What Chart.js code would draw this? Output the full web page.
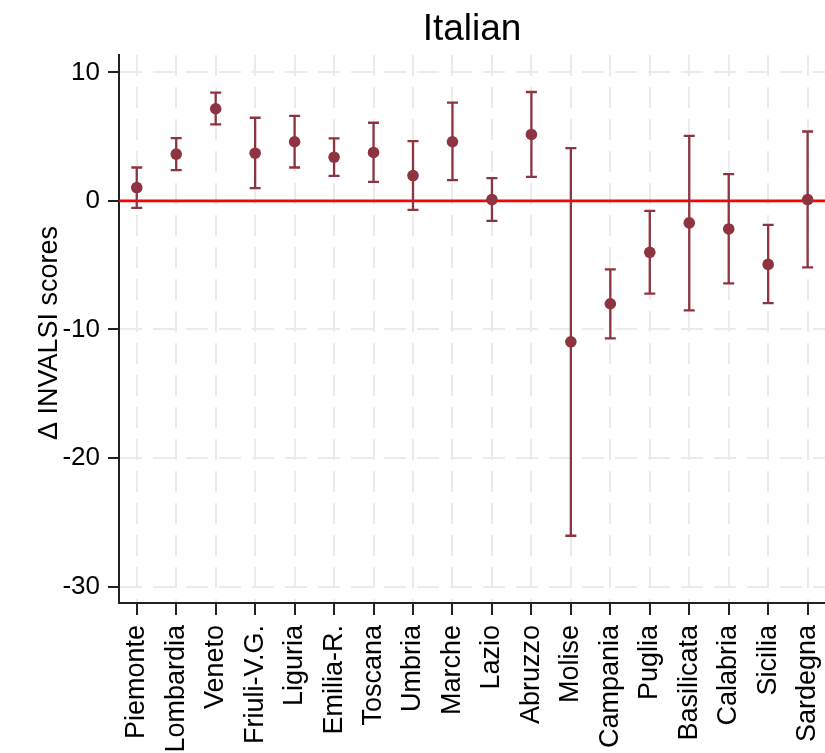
<!DOCTYPE html>
<html>
<head>
<meta charset="utf-8">
<script src="https://cdn.jsdelivr.net/npm/chart.js@4.4.0/dist/chart.umd.min.js"></script>
<style>
  html, body { margin: 0; padding: 0; background: #ffffff; }
  #wrap { width: 825px; height: 753px; }
</style>
</head>
<body>
<div id="wrap"><canvas id="c" width="825" height="753"></canvas></div>
<script>
// Regional differences in INVALSI Italian scores with confidence intervals
const regions = ['Piemonte', 'Lombardia', 'Veneto', 'Friuli-V.G.', 'Liguria', 'Emilia-R.',
  'Toscana', 'Umbria', 'Marche', 'Lazio', 'Abruzzo', 'Molise', 'Campania', 'Puglia',
  'Basilicata', 'Calabria', 'Sicilia', 'Sardegna'];
const estimates = [1.04, 3.64, 7.17, 3.71, 4.6, 3.4, 3.77, 1.97, 4.6, 0.1, 5.17, -10.96,
  -8.0, -4.0, -1.71, -2.18, -4.94, 0.1];
const upperCI = [2.6, 4.88, 8.42, 6.47, 6.62, 4.86, 6.08, 4.65, 7.64, 1.77, 8.47, 4.1,
  -5.32, -0.78, 5.06, 2.08, -1.87, 5.4];
const lowerCI = [-0.55, 2.39, 5.95, 0.99, 2.6, 1.95, 1.48, -0.7, 1.61, -1.56, 1.87, -26.05,
  -10.7, -7.22, -8.52, -6.42, -7.95, -5.17];
const yTicks = [-30, -20, -10, 0, 10];

const chartTitle = 'Italian';
const yTitle = 'Δ INVALSI scores';

const FONT = '"Liberation Sans", Arial, Helvetica, sans-serif';
const markColor = '#8e3440';
const axisColor = '#222222';
const gridColor = '#ebebeb';

// Reference line at zero and the interval whiskers, drawn under the markers
const intervalPlugin = {
  id: 'intervals',
  beforeDatasetsDraw(chart) {
    const { ctx, chartArea, scales: { x, y } } = chart;
    ctx.save();
    // zero line
    ctx.strokeStyle = '#ff0000';
    ctx.lineWidth = 2.6;
    const y0 = y.getPixelForValue(0);
    ctx.beginPath();
    ctx.moveTo(chartArea.left, y0);
    ctx.lineTo(chartArea.right, y0);
    ctx.stroke();
    // whiskers with caps
    ctx.strokeStyle = markColor;
    ctx.lineWidth = 2.3;
    const cap = 5.5;
    regions.forEach((_, i) => {
      const px = x.getPixelForValue(i);
      const pHi = y.getPixelForValue(upperCI[i]);
      const pLo = y.getPixelForValue(lowerCI[i]);
      ctx.beginPath();
      ctx.moveTo(px, pHi);
      ctx.lineTo(px, pLo);
      ctx.moveTo(px - cap, pHi);
      ctx.lineTo(px + cap, pHi);
      ctx.moveTo(px - cap, pLo);
      ctx.lineTo(px + cap, pLo);
      ctx.stroke();
    });
    ctx.restore();
  }
};

// Title over the plot region and the rotated y-axis caption
const textPlugin = {
  id: 'texts',
  afterDraw(chart) {
    const { ctx, chartArea } = chart;
    ctx.save();
    ctx.fillStyle = '#000000';
    ctx.textAlign = 'center';
    ctx.textBaseline = 'alphabetic';
    ctx.font = '37px ' + FONT;
    ctx.fillText(chartTitle, (chartArea.left + chartArea.right) / 2, 40);
    ctx.translate(57, (chartArea.top + chartArea.bottom) / 2 + 4);
    ctx.rotate(-Math.PI / 2);
    ctx.font = '27px ' + FONT;
    ctx.fillText(yTitle, 0, 0);
    ctx.restore();
  }
};

new Chart(document.getElementById('c'), {
  type: 'scatter',
  data: {
    datasets: [{
      data: estimates.map((v, i) => ({ x: i, y: v })),
      backgroundColor: markColor,
      borderWidth: 0,
      pointRadius: 5.8,
      pointHoverRadius: 5.8
    }]
  },
  options: {
    responsive: false,
    animation: false,
    events: [],
    layout: { autoPadding: false, padding: { top: 55, right: 0, left: 0, bottom: 0 } },
    plugins: { legend: { display: false }, title: { display: false }, tooltip: { enabled: false } },
    scales: {
      x: {
        type: 'linear',
        min: -0.45,
        max: 17.44,
        afterBuildTicks(scale) { scale.ticks = regions.map((_, i) => ({ value: i })); },
        afterFit(scale) {
          scale.height = 150;
          scale.paddingLeft = 0;
          scale.paddingRight = 0;
        },
        ticks: {
          autoSkip: false,
          minRotation: 90,
          maxRotation: 90,
          padding: 10,
          color: '#000000',
          font: { family: FONT, size: 27 },
          callback: (v) => regions[v]
        },
        grid: {
          color: gridColor,
          lineWidth: 2,
          tickColor: axisColor,
          tickWidth: 2,
          tickLength: 12
        },
        border: { color: axisColor, width: 2, dash: [21, 11] }
      },
      y: {
        type: 'linear',
        min: -31.28,
        max: 11.35,
        afterBuildTicks(scale) { scale.ticks = yTicks.map(v => ({ value: v })); },
        afterFit(scale) {
          scale.width = 119;
          scale.paddingTop = 0;
          scale.paddingBottom = 0;
        },
        ticks: {
          padding: 8,
          color: '#000000',
          font: { family: FONT, size: 26 },
          callback: (v) => String(v)
        },
        grid: {
          color: gridColor,
          lineWidth: 2,
          tickColor: axisColor,
          tickWidth: 2,
          tickLength: 11
        },
        border: { color: axisColor, width: 2, dash: [22, 11] }
      }
    }
  },
  plugins: [intervalPlugin, textPlugin]
});
</script>
</body>
</html>
